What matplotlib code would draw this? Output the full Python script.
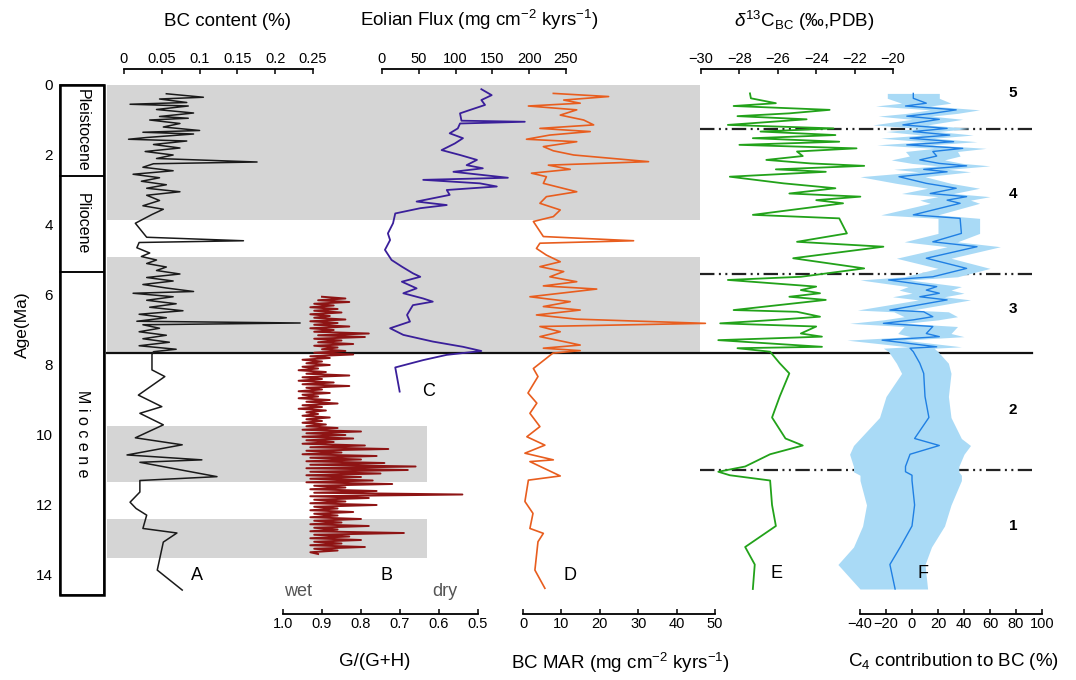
import matplotlib
matplotlib.use("Agg")
import matplotlib.pyplot as plt
from matplotlib.patches import Rectangle

plt.rcParams['font.family'] = ['Liberation Sans', 'DejaVu Sans']
plt.rcParams['mathtext.fontset'] = 'custom'
plt.rcParams['mathtext.rm'] = 'Liberation Sans'
plt.rcParams['mathtext.it'] = 'Liberation Sans:italic'
plt.rcParams['mathtext.bf'] = 'Liberation Sans:bold'

# ---------------- data (age in Ma) ----------------
# A: BC content (%)
A_age = [0.25, 0.35, 0.4, 0.5, 0.55, 0.6, 0.7, 0.8, 0.9, 0.95, 1.0, 1.1, 1.2, 1.3, 1.35, 1.4, 1.5, 1.55, 1.6, 1.7,
         1.8, 1.9, 2.0, 2.1, 2.2, 2.25, 2.35, 2.45, 2.55, 2.65, 2.75, 2.85, 2.95, 3.05, 3.15, 3.3, 3.45, 3.55, 3.7, 3.95,
         4.35, 4.45, 4.5, 4.65, 4.8, 4.9, 5.0, 5.1, 5.2, 5.3, 5.4, 5.5, 5.6, 5.7, 5.8, 5.9, 5.95, 6.05, 6.15, 6.25,
         6.35, 6.45, 6.55, 6.65, 6.75, 6.8, 6.85, 6.95, 7.05, 7.15, 7.25, 7.35, 7.45, 7.55, 7.62, 7.7, 8.14, 8.33, 8.86, 9.19,
         9.38, 9.71, 10.08, 10.28, 10.57, 10.71, 10.78, 11.19, 11.3, 11.63, 11.92, 12.1, 12.29, 12.67, 12.8, 13.06, 13.86, 14.43]
A_val = [0.056, 0.105, 0.047, 0.083, 0.008, 0.085, 0.043, 0.092, 0.047, 0.085, 0.034, 0.074, 0.052, 0.1, 0.025, 0.092, 0.03, 0.006, 0.083, 0.039,
         0.074, 0.028, 0.065, 0.043, 0.176, 0.039, 0.025, 0.065, 0.012, 0.047, 0.023, 0.056, 0.03, 0.074, 0.03, 0.047, 0.025, 0.052, 0.037, 0.015,
         0.03, 0.158, 0.02, 0.017, 0.034, 0.023, 0.043, 0.03, 0.056, 0.043, 0.074, 0.03, 0.065, 0.025, 0.056, 0.092, 0.012, 0.065, 0.03, 0.069,
         0.034, 0.078, 0.02, 0.056, 0.017, 0.233, 0.025, 0.047, 0.02, 0.056, 0.025, 0.06, 0.02, 0.069, 0.039, 0.037, 0.037, 0.054, 0.019, 0.05,
         0.021, 0.052, 0.015, 0.077, 0.004, 0.103, 0.021, 0.123, 0.021, 0.021, 0.008, 0.016, 0.03, 0.025, 0.07, 0.052, 0.044, 0.077]

# B: G/(G+H)
B_age = [6.05, 6.1, 6.15, 6.2, 6.25, 6.3, 6.35, 6.4, 6.45, 6.5, 6.55, 6.6, 6.65, 6.7, 6.75, 6.8, 6.85, 6.9, 6.95, 7.0,
         7.05, 7.1, 7.15, 7.2, 7.25, 7.3, 7.35, 7.4, 7.45, 7.5, 7.55, 7.6, 7.65, 7.7, 7.75, 7.8, 7.85, 7.9, 7.95, 8.0,
         8.05, 8.1, 8.15, 8.2, 8.25, 8.3, 8.35, 8.4, 8.45, 8.5, 8.55, 8.6, 8.65, 8.7, 8.75, 8.8, 8.85, 8.9, 8.95, 9.0,
         9.05, 9.1, 9.15, 9.2, 9.25, 9.3, 9.35, 9.4, 9.45, 9.5, 9.55, 9.6, 9.65, 9.7, 9.75, 9.8, 9.85, 9.9, 9.95, 10.0,
         10.05, 10.1, 10.15, 10.2, 10.25, 10.3, 10.35, 10.4, 10.45, 10.5, 10.55, 10.6, 10.65, 10.7, 10.75, 10.8, 10.85, 10.9, 10.95, 11.0,
         11.05, 11.1, 11.15, 11.2, 11.25, 11.3, 11.35, 11.4, 11.45, 11.5, 11.55, 11.6, 11.65, 11.7, 11.75, 11.8, 11.85, 11.9, 11.95, 12.0,
         12.05, 12.1, 12.15, 12.2, 12.25, 12.3, 12.35, 12.4, 12.45, 12.5, 12.55, 12.6, 12.65, 12.7, 12.75, 12.8, 12.85, 12.9, 12.95, 13.0,
         13.05, 13.1, 13.15, 13.2, 13.25, 13.3, 13.35, 13.4]
B_val = [0.90, 0.84, 0.91, 0.83, 0.92, 0.87, 0.93, 0.86, 0.92, 0.85, 0.93, 0.88, 0.92, 0.84, 0.93, 0.86, 0.92, 0.83, 0.93, 0.87,
         0.92, 0.78, 0.91, 0.79, 0.92, 0.85, 0.91, 0.82, 0.92, 0.86, 0.90, 0.84, 0.92, 0.82, 0.93, 0.88, 0.95, 0.90, 0.94, 0.88,
         0.95, 0.91, 0.96, 0.89, 0.94, 0.83, 0.95, 0.90, 0.96, 0.87, 0.95, 0.83, 0.94, 0.90, 0.96, 0.88, 0.95, 0.91, 0.96, 0.88,
         0.94, 0.86, 0.95, 0.90, 0.96, 0.89, 0.94, 0.91, 0.95, 0.88, 0.94, 0.90, 0.95, 0.89, 0.94, 0.86, 0.95, 0.80, 0.94, 0.84,
         0.95, 0.82, 0.94, 0.87, 0.95, 0.79, 0.93, 0.73, 0.94, 0.85, 0.95, 0.76, 0.93, 0.80, 0.94, 0.74, 0.93, 0.66, 0.94, 0.68,
         0.93, 0.75, 0.94, 0.80, 0.93, 0.77, 0.94, 0.72, 0.92, 0.84, 0.93, 0.76, 0.92, 0.54, 0.93, 0.78, 0.92, 0.84, 0.93, 0.76,
         0.92, 0.86, 0.93, 0.82, 0.92, 0.86, 0.93, 0.80, 0.92, 0.85, 0.93, 0.78, 0.92, 0.86, 0.93, 0.69, 0.92, 0.83, 0.93, 0.80,
         0.92, 0.85, 0.93, 0.79, 0.92, 0.86, 0.93, 0.91]

# C: Eolian flux (mg cm-2 kyr-1)
C_age = [0.12, 0.29, 0.43, 0.57, 0.71, 0.81, 1.02, 1.05, 1.1, 1.24, 1.38, 1.52, 1.67, 1.86, 2.0, 2.14, 2.29, 2.38, 2.48, 2.65,
         2.71, 2.81, 2.9, 3.0, 3.14, 3.33, 3.43, 3.52, 3.67, 3.95, 4.24, 4.43, 4.71, 5.0, 5.19, 5.38, 5.48, 5.62, 5.81, 5.95,
         6.1, 6.19, 6.29, 6.43, 6.57, 6.76, 6.95, 7.14, 7.33, 7.48, 7.6, 7.71, 7.86, 8.07, 8.76]
C_val = [135, 149, 135, 140, 120, 106, 108, 194, 106, 103, 92, 110, 99, 81, 106, 129, 115, 137, 97, 171,
         56, 133, 156, 88, 92, 47, 88, 52, 18, 15, 8, 11, 4, 13, 27, 42, 52, 27, 47, 29,
         56, 69, 42, 38, 34, 38, 11, 29, 69, 110, 135, 88, 56, 18, 24]

# D: BC MAR (mg cm-2 kyr-1)
D_age = [0.24, 0.33, 0.43, 0.52, 0.6, 0.71, 0.86, 1.0, 1.14, 1.24, 1.33, 1.43, 1.55, 1.62, 1.76, 1.88, 2.0, 2.19, 2.29, 2.41,
         2.52, 2.62, 2.81, 3.05, 3.19, 3.38, 3.57, 3.76, 3.9, 4.33, 4.45, 4.52, 4.67, 4.86, 5.05, 5.19, 5.33, 5.48, 5.62, 5.74,
         5.83, 6.05, 6.19, 6.33, 6.43, 6.57, 6.69, 6.81, 6.9, 7.05, 7.19, 7.33, 7.43, 7.52, 7.59, 7.66, 8.1, 8.33, 8.8, 9.09,
         9.38, 9.76, 10.05, 10.29, 10.52, 10.71, 10.76, 11.17, 11.29, 11.9, 12.24, 12.67, 12.81, 13.05, 13.86, 14.38]
D_val = [7.9, 22.3, 10.6, 14.9, 1.4, 14, 9.7, 15.8, 18.4, 4.4, 17.5, 7.0, 0.9, 14, 5.3, 7.9, 13.2, 32.7, 6.6, 12.3,
         2.2, 6.1, 5.3, 14, 6.1, 4.4, 9.7, 7.9, 2.7, 5.3, 28.8, 4.4, 3.5, 6.1, 9.7, 4.4, 10.6, 7.0, 14, 5.3,
         19.2, 1.8, 12.3, 5.3, 14.9, 3.5, 14, 47.5, 4.4, 9.7, 4.4, 10.6, 14.9, 5.3, 14.9, 7.8, 2.7, 3.9, 1.3, 3.6,
         1.8, 4.4, 1.0, 5.7, 0.5, 7.9, 1.8, 9.7, 1.4, 0.5, 2.6, 1.8, 5.3, 3.9, 3.1, 5.7]

# E: d13C of BC (permil, PDB)
E_age = [0.24, 0.38, 0.52, 0.6, 0.71, 0.81, 0.89, 0.98, 1.14, 1.24, 1.33, 1.43, 1.52, 1.62, 1.71, 1.81, 1.9, 2.03, 2.14, 2.24,
         2.31, 2.41, 2.48, 2.62, 2.81, 2.95, 3.1, 3.19, 3.29, 3.38, 3.71, 3.81, 4.24, 4.48, 4.62, 4.95, 5.24, 5.48, 5.57, 5.76,
         5.86, 5.95, 6.05, 6.14, 6.43, 6.48, 6.62, 6.71, 6.81, 6.9, 7.1, 7.19, 7.29, 7.48, 7.52, 7.62, 7.95, 8.24,
         8.9, 9.5, 10.1, 10.3, 10.55, 10.9, 11.05, 11.15, 11.3, 12.0, 12.6, 13.2, 13.7, 14.4]
E_val = [-27.45, -27.4, -26.1, -28.3, -23.3, -25.4, -28.1, -24.5, -28.6, -23.1, -26.9, -23.0, -27.3, -22.8, -28.0, -21.9, -25.0, -24.7, -26.6, -24.3,
         -21.5, -26.1, -23.5, -28.5, -25.7, -23.0, -25.4, -21.7, -24.0, -22.6, -27.3, -22.8, -22.4, -25.0, -20.5, -25.2, -21.5, -24.8, -28.6, -24.0,
         -24.8, -23.8, -25.4, -23.5, -28.3, -25.0, -23.8, -26.1, -29.0, -24.0, -24.8, -23.7, -29.1, -23.7, -28.1, -26.4, -25.9, -25.4,
         -25.9, -26.3, -25.6, -24.7, -26.4, -27.7, -29.1, -28.5, -26.4, -26.3, -26.1, -27.7, -27.2, -27.3]

# F: C4 contribution to BC (%), with uncertainty envelope
F_age = E_age
F_mid = [1, 1, 11, -5, 34, 16, -4, 21, -7, 27, 1, 29, -1.5, 32, -4, 39, 16, 19, 6, 21,
         42, 9, 27, -10, 11, 34, 14, 42, 27, 37, 1, 37, 38, 16, 50, 11, 42, 16, -18, 19,
         11, 21, 6, 27, -17, 9, 16, 1, -22, 16, 11, 21, -23, 19, -1.5, 1, 6, 9,
         10, 13, 2, 21, -1.5, -5, -5, 0, 0, 2, 0, -9, -17, -13]
F_lo = [-19, -19, -8, -28, 14, -4, -26, 0, -30, 6, -20, 8, -24, 10, -27, 17, -5, -2, -16, 0,
        20, -14, 5, -40, -12, 12, -8, 20, 6, 14, -24, 20, 20, -6, 27, -12, 20, -6, -40, -3,
        -10, 0, -15, 5, -42, -14, -6, -22, -48, -6, -11, -1, -50, -3, -22, -18, -12, -8,
        -20, -25, -40, -45, -48, -45, -45, -40, -40, -35, -38, -45, -57, -40]
F_hi = [21, 21, 30, 14, 52, 35, 15, 39, 12, 45, 20, 47, 17, 50, 15, 57, 35, 37, 25, 39,
        60, 28, 45, 10, 30, 52, 32, 60, 45, 52, 20, 52, 52, 35, 68, 30, 60, 35, -2, 38,
        30, 40, 25, 45, 0, 28, 35, 20, -5, 35, 30, 40, -6, 38, 17, 20, 28, 30,
        28, 30, 38, 45, 40, 36, 36, 38, 38, 30, 25, 15, 10, 12]

# stratigraphy / intervals
EPOCHS = ['Pleistocene', 'Pliocene', 'M i o c e n e']
EPOCH_BOUNDS = [0, 2.6, 5.33, 14.57]
GRAY_LONG = [(0, 3.85), (4.9, 7.65)]
GRAY_SHORT = [(9.75, 11.35), (12.4, 13.5)]
MAIN_BOUNDARY = 7.65
ZONE_BOUNDS = [1.27, 5.4, 11.0]
ZONE_LABELS = ['5', '4', '3', '2', '1']
ZONE_LABEL_AGE = [0.23, 3.1, 6.4, 9.3, 12.6]
AGE_TICKS = [0, 2, 4, 6, 8, 10, 12, 14]

# ---------------- layout helpers (pixel based) ----------------
W, H = 1076, 680
AGE0_PX, PX_PER_MA = 85, 35
TOP_PX, BOT_PX = 69, 614
YLIM = ((BOT_PX - AGE0_PX) / PX_PER_MA, (TOP_PX - AGE0_PX) / PX_PER_MA)

fig = plt.figure(figsize=(W / 100, H / 100), dpi=100)


def ptext(x, y, s, **kw):
    kw.setdefault('ha', 'center')
    kw.setdefault('va', 'center')
    return fig.text(x / W, 1 - y / H, s, **kw)


def panel(x0, x1, xlim, ticks, labels=None, side='top', bounds=None):
    ax = fig.add_axes([x0 / W, 1 - BOT_PX / H, (x1 - x0) / W, (BOT_PX - TOP_PX) / H])
    ax.set_facecolor('none')
    ax.set_ylim(*YLIM)
    ax.set_xlim(*xlim)
    ax.set_yticks([])
    for s in ['left', 'right', 'top', 'bottom']:
        ax.spines[s].set_visible(False)
    if side is None:
        ax.set_xticks([])
        return ax
    ax.spines[side].set_visible(True)
    ax.spines[side].set_linewidth(1.3)
    if bounds is not None:
        ax.spines[side].set_bounds(*bounds)
    ax.set_xticks(ticks)
    if labels is not None:
        ax.set_xticklabels(labels)
    top = side == 'top'
    ax.tick_params(axis='x', direction='in', length=3.5, width=1.1, pad=2.5, labelsize=10.5,
                   top=top, bottom=not top, labeltop=top, labelbottom=not top)
    return ax


# background: gray intervals and boundary lines
ax_bg = panel(0, W, (0, 1), [], side=None)
for a0, a1 in GRAY_LONG:
    ax_bg.axhspan(a0, a1, xmin=107 / W, xmax=700 / W, color='#d5d5d5', lw=0)
for a0, a1 in GRAY_SHORT:
    ax_bg.axhspan(a0, a1, xmin=107 / W, xmax=427 / W, color='#d5d5d5', lw=0)
ax_bg.axhline(MAIN_BOUNDARY, xmin=107 / W, xmax=1032 / W, color='#111111', lw=1.6, zorder=5)
for zb in ZONE_BOUNDS:
    ax_bg.axhline(zb, xmin=700 / W, xmax=1032 / W, color='#222222', lw=1.6,
                  linestyle=(0, (6.5, 2.0, 0.9, 2.0, 0.9, 2.0)), zorder=5)

# stratigraphic column
ax_col = panel(60, 104, (0, 1), [], side=None)
for i, name in enumerate(EPOCHS):
    a0, a1 = EPOCH_BOUNDS[i], EPOCH_BOUNDS[i + 1]
    ax_col.add_patch(Rectangle((0, a0), 1, a1 - a0, fill=False, ec='black', lw=1.1, clip_on=False))
    ax_col.text(0.5, (a0 + a1) / 2, name, rotation=270, ha='center', va='center', fontsize=11.5)
ax_col.add_patch(Rectangle((0, EPOCH_BOUNDS[0]), 1, EPOCH_BOUNDS[-1] - EPOCH_BOUNDS[0],
                           fill=False, ec='black', lw=1.8, clip_on=False))
ax_col.set_yticks(AGE_TICKS)
ax_col.set_yticklabels([str(t) for t in AGE_TICKS])
ax_col.tick_params(axis='y', length=0, pad=5, labelsize=11)

# A: BC content
ax_a = panel(124, 313, (0, 0.25), [0, 0.05, 0.1, 0.15, 0.2, 0.25],
             ['0', '0.05', '0.1', '0.15', '0.2', '0.25'], side='top')
ax_a.plot(A_val, A_age, color='#1a1a1a', lw=1.1)

# B: G/(G+H)
ax_b = panel(283, 478, (1.0, 0.5), [1.0, 0.9, 0.8, 0.7, 0.6, 0.5],
             ['1.0', '0.9', '0.8', '0.7', '0.6', '0.5'], side='bottom')
ax_b.plot(B_val, B_age, color='#8e1414', lw=1.4)

# C: Eolian flux
ax_c = panel(382, 566, (0, 250), [0, 50, 100, 150, 200, 250], side='top')
ax_c.plot(C_val, C_age, color='#3a1f9a', lw=1.3)

# D: BC MAR
ax_d = panel(523, 715, (0, 50), [0, 10, 20, 30, 40, 50], side='bottom')
ax_d.plot(D_val, D_age, color='#e85d1e', lw=1.2)

# E: d13C
ax_e = panel(701, 893, (-30, -20), [-30, -28, -26, -24, -22, -20], side='top')
ax_e.plot(E_val, E_age, color='#22a21a', lw=1.3)

# F: C4 contribution
ax_f = panel(834, 1042, (-60, 100), [-40, -20, 0, 20, 40, 60, 80, 100], side='bottom', bounds=(-40, 100))
ax_f.fill_betweenx(F_age, F_lo, F_hi, color='#a9daf6', lw=0)
ax_f.plot(F_mid, F_age, color='#1f7fe3', lw=1.0)

# ---------------- texts ----------------
ptext(227, 22, 'BC content (%)', fontsize=13.5)
ptext(479, 20, r'Eolian Flux (mg cm$^{-2}$ kyrs$^{-1}$)', fontsize=13.5)
ptext(804, 21, r'$\delta^{13}$C$_{\mathrm{BC}}$ (‰,PDB)', fontsize=13.5)
ptext(375, 662, 'G/(G+H)', fontsize=13.5)
ptext(620, 663, r'BC MAR (mg cm$^{-2}$ kyrs$^{-1}$)', fontsize=13.5)
ptext(953, 661, r'C$_4$ contribution to BC (%)', fontsize=13.5)
ptext(22, 325, 'Age(Ma)', rotation=90, fontsize=12.5)

for s, x, y in [('A', 197, 575), ('B', 387, 575), ('C', 429, 392),
                ('D', 570, 575), ('E', 777, 574), ('F', 923, 574)]:
    ptext(x, y, s, fontsize=13)
ptext(298, 592, 'wet', fontsize=13, color='#555555')
ptext(445, 592, 'dry', fontsize=13, color='#555555')

for lab, age in zip(ZONE_LABELS, ZONE_LABEL_AGE):
    ax_bg.text(1013 / W, age, lab, ha='center', va='center', fontsize=11, fontweight='bold')

fig.savefig('out.png', dpi=100)
